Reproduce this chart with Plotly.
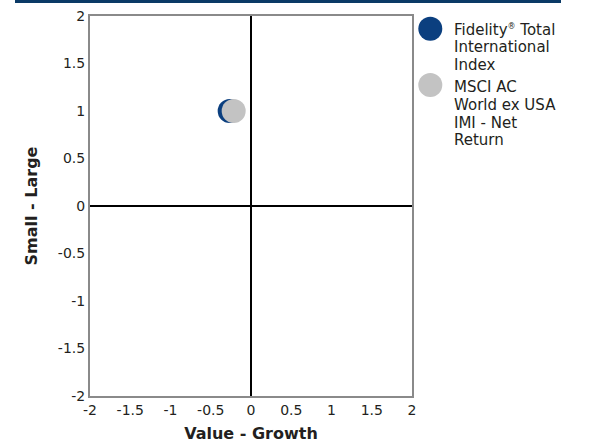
import plotly.graph_objects as go

# Style-box coordinates for each fund
series_lines = [
    ["Fidelity<sup><span style='font-size:8px'>®</span></sup> Total", "International", "Index"],
    ["MSCI AC", "World ex USA", "IMI - Net", "Return"],
]
value_growth = [-0.265, -0.215]
small_large = [1.0, 1.0]
colors = ["#0b3f7f", "#c3c3c3"]

tick_vals = [-2, -1.5, -1, -0.5, 0, 0.5, 1, 1.5, 2]
tick_text = ["-2", "-1.5", "-1", "-0.5", "0", "0.5", "1", "1.5", "2"]

FONT = "DejaVu Sans"
TEXT = "#231f20"

# plot-area geometry in pixels (used to place the hand-built legend)
W, H = 601, 443
L, R, T, B = 90, 189, 16, 47
PW, PH = W - L - R, H - T - B


def px_x(x):
    return (x - L) / PW


def px_y(y):
    return (H - B - y) / PH


fig = go.Figure()
for i in range(len(series_lines)):
    fig.add_trace(go.Scatter(
        x=[value_growth[i]], y=[small_large[i]],
        mode="markers",
        marker=dict(size=24, color=colors[i], line=dict(width=0)),
        name=" ".join(series_lines[i]), showlegend=False,
        hoverinfo="skip",
    ))

axis_common = dict(
    range=[-2, 2], tickvals=tick_vals, ticktext=tick_text,
    showgrid=False, zeroline=True, zerolinecolor="black", zerolinewidth=2,
    showline=True, linecolor="#8a8a8a", linewidth=2, mirror=True,
    ticks="", tickfont=dict(family=FONT, size=14, color=TEXT),
    fixedrange=True, automargin=False,
)

fig.update_layout(
    width=W, height=H,
    margin=dict(l=L, r=R, t=T, b=B),
    paper_bgcolor="white", plot_bgcolor="white",
    xaxis=dict(axis_common, title=dict(text="<b>Value - Growth</b>",
                                       font=dict(family=FONT, size=16, color=TEXT),
                                       standoff=12)),
    yaxis=dict(axis_common, title=dict(text="<b>Small - Large</b>",
                                       font=dict(family=FONT, size=16, color=TEXT),
                                       standoff=16)),
    showlegend=False,
)

# Navy rule across the top of the figure
fig.add_shape(type="line", xref="paper", yref="paper",
              x0=px_x(15), x1=px_x(561), y0=px_y(1.5), y1=px_y(1.5),
              line=dict(color="#0b3a66", width=3))

# Legend built from circles and labels
circle_cy = [28.7, 85.0]
first_baseline = [35.0, 92.3]
line_gap = 17.7
for i, lines in enumerate(series_lines):
    fig.add_shape(type="circle", xref="paper", yref="paper",
                  xsizemode="pixel", ysizemode="pixel",
                  xanchor=px_x(430.3), yanchor=px_y(circle_cy[i]),
                  x0=-12, x1=12, y0=-12, y1=12,
                  fillcolor=colors[i], line=dict(width=0))
    for j, txt in enumerate(lines):
        baseline = first_baseline[i] + j * line_gap
        fig.add_annotation(xref="paper", yref="paper",
                           x=px_x(453), y=px_y(baseline - 5.2),
                           xanchor="left", yanchor="middle", align="left",
                           text=txt, showarrow=False, borderpad=0,
                           font=dict(family=FONT, size=15, color=TEXT))

fig.write_html("out.html")
